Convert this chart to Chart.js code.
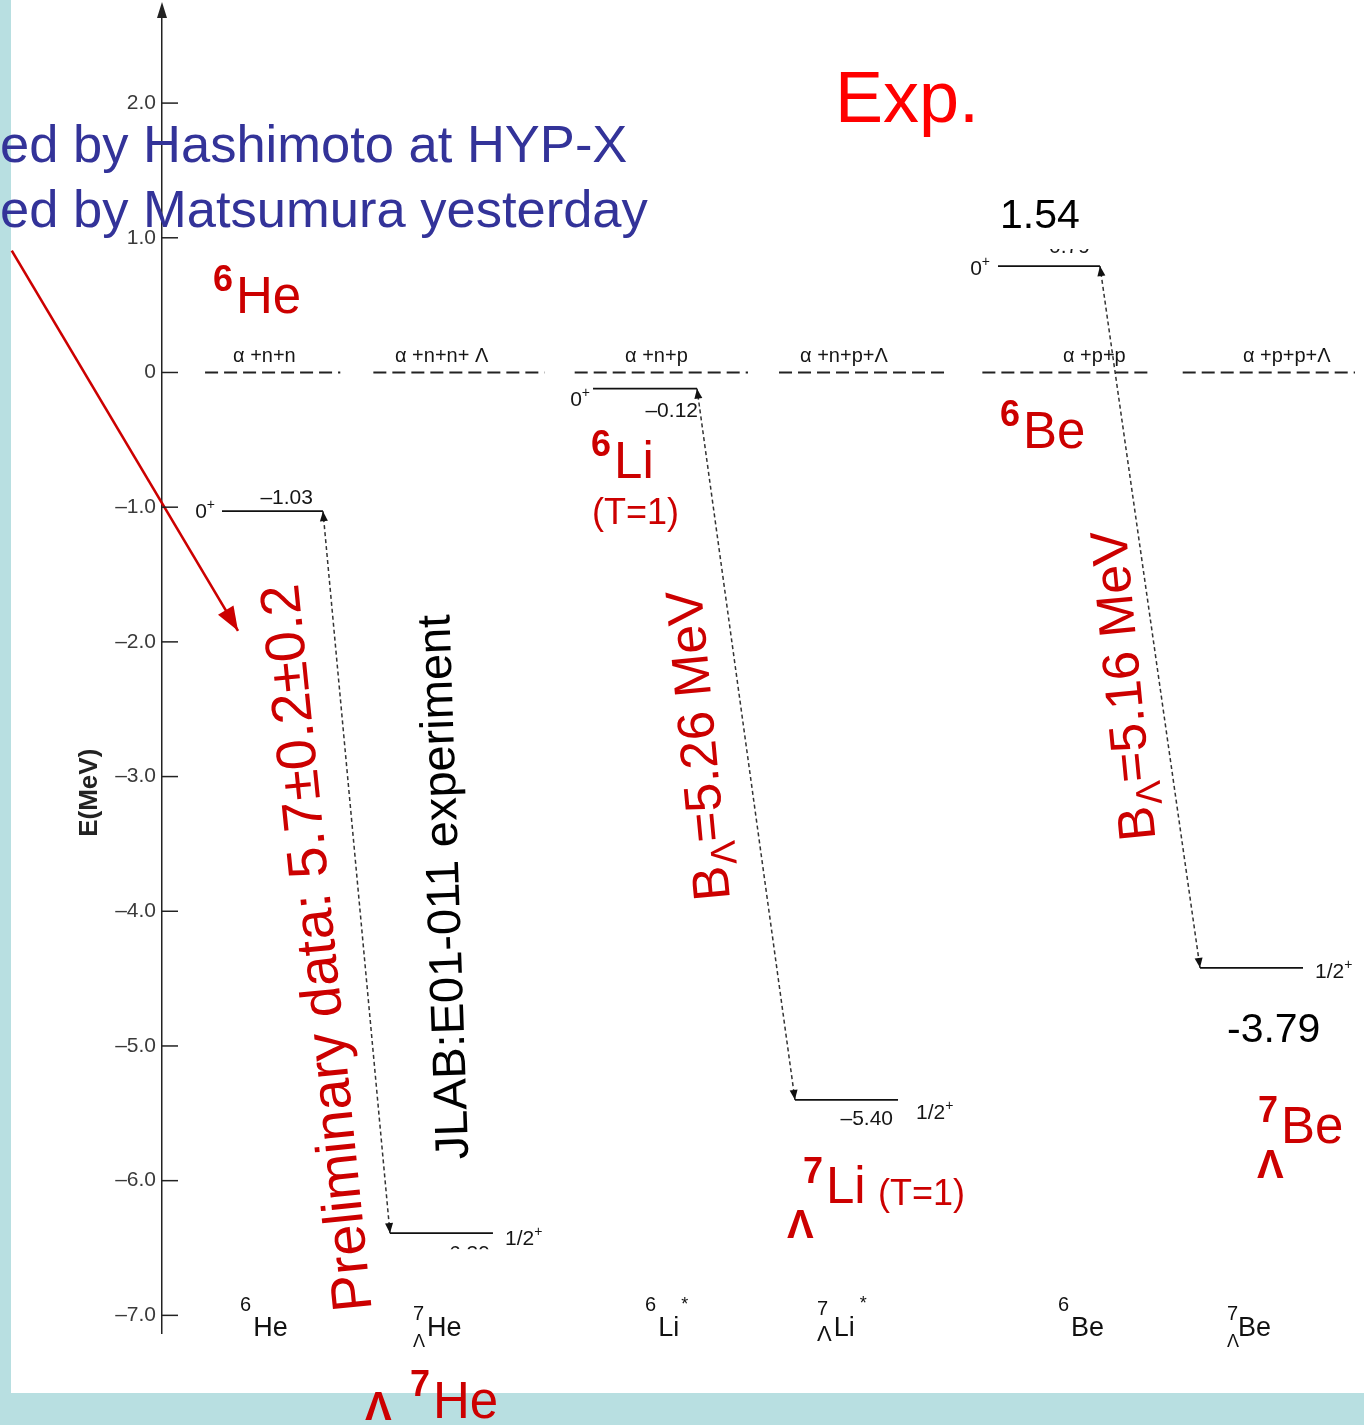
<!DOCTYPE html>
<html>
<head>
<meta charset="utf-8">
<title>Level scheme of A=6 nuclei and A=7 hypernuclei</title>
<script src="https://cdn.jsdelivr.net/npm/chart.js@4/dist/chart.umd.min.js"></script>
<style>
  html, body { margin: 0; padding: 0; background: #fff; }
  #wrap { position: relative; width: 1364px; height: 1425px; overflow: hidden; }
  .band { position: absolute; background: #b8dfe1; }
  #bandLeft { left: 0; top: 0; width: 11px; height: 1425px; }
  #bandBottom { left: 0; top: 1393px; width: 1364px; height: 32px; }
  canvas { position: absolute; left: 0; top: 0; }
</style>
</head>
<body>
<div id="wrap">
  <div class="band" id="bandLeft"></div>
  <div class="band" id="bandBottom"></div>
  <canvas id="chart" width="1364" height="1425"></canvas>
</div>
<script>
// ---------------- data ----------------
// Nuclei, one column each (core nucleus followed by its Λ hypernucleus)
const nuclei = ['6He', '7ΛHe', '6Li*', '7ΛLi*', '6Be', '7ΛBe'];
// Level energies in MeV, measured from the breakup threshold of each column
const levelEnergy = [-1.03, -6.39, -0.12, -5.40, 0.79, -4.42];
const levelSpin = ['0+', '1/2+', '0+', '1/2+', '0+', '1/2+'];
// Breakup thresholds
const thresholdLabels = ['α +n+n', 'α +n+n+ Λ', 'α +n+p', 'α +n+p+Λ', 'α +p+p', 'α +p+p+Λ'];
const thresholdEnergy = [0, 0, 0, 0, 0, 0];
// Core → hypernucleus transitions (indices into nuclei)
const transitions = [[0, 1], [2, 3], [4, 5]];
// Λ binding energies quoted on the arrows (MeV)
const bindingLabels = ['5.26', '5.16'];
// Measured values written next to the Be levels
const expValues = ['1.54', '-3.79'];
const preliminary = 'Preliminary data: 5.7±0.2±0.2';
const experiment = 'JLAB:E01-011 experiment';
const talkLines = ['ed by Hashimoto at HYP-X', 'ed by Matsumura yesterday'];
// Energy axis
const yTicks = [-7, -6, -5, -4, -3, -2, -1, 0, 1, 2];
const yRange = [-7.131, 2.706];

// ---------------- layout (x in column units, ~100 px each) ----------------
const xRange = [0, 12];
const levelSpan = [[0.599, 1.607], [2.276, 3.304], [4.303, 5.341], [6.319, 7.348], [8.346, 9.364], [10.363, 11.391]];
const thresholdSpan = [[0.43, 1.78], [2.11, 3.82], [4.12, 5.85], [6.16, 7.85], [8.19, 9.88], [10.19, 11.91]];
const thresholdLabelX = [0.709, 2.326, 4.623, 6.370, 8.995, 10.791];
const nucleusLabelX = [0.779, 2.506, 4.822, 6.539, 8.945, 10.632];

const FONT = "'Liberation Sans', Arial, Helvetica, sans-serif";
const f = (size, bold) => (bold ? 'bold ' : '') + size + 'px ' + FONT;
const RED = '#cc0000', BRIGHT_RED = '#ff0000', BLUE = '#333399', INK = '#151515';

const minus = v => (v < 0 ? '\u2013' : '') + Math.abs(v).toFixed(2);

// ---------------- datasets ----------------
const datasets = [];
thresholdLabels.forEach((name, i) => datasets.push({
  label: name, kind: 'threshold',
  data: [{ x: thresholdSpan[i][0], y: thresholdEnergy[i] }, { x: thresholdSpan[i][1], y: thresholdEnergy[i] }],
  showLine: true, borderColor: '#222', borderWidth: 1.8, borderDash: [13, 6], pointRadius: 0
}));
nuclei.forEach((name, i) => datasets.push({
  label: name, kind: 'level',
  data: [{ x: levelSpan[i][0], y: levelEnergy[i] }, { x: levelSpan[i][1], y: levelEnergy[i] }],
  showLine: true, borderColor: '#111', borderWidth: 1.8, pointRadius: 0
}));
transitions.forEach(([a, b]) => datasets.push({
  label: nuclei[a] + '→' + nuclei[b], kind: 'transition',
  data: [{ x: levelSpan[a][1], y: levelEnergy[a] }, { x: levelSpan[b][0], y: levelEnergy[b] }],
  showLine: true, borderColor: '#333', borderWidth: 1.5, borderDash: [4, 3], pointRadius: 0
}));
// red pointer from the talk note to the preliminary value
datasets.push({
  label: 'pointer', kind: 'pointer',
  data: [{ x: -1.50, y: 0.905 }, { x: 0.759, y: -1.918 }],
  showLine: true, borderColor: RED, borderWidth: 2.6, pointRadius: 0, clip: false
});

// ---------------- drawing helpers ----------------
function text(ctx, s, x, y, font, color, align) {
  ctx.font = font; ctx.fillStyle = color;
  ctx.textAlign = align || 'left'; ctx.textBaseline = 'alphabetic';
  ctx.fillText(s, x, y);
  return ctx.measureText(s).width;
}

function head(ctx, from, to, len, half, color) {
  const a = Math.atan2(to.y - from.y, to.x - from.x);
  ctx.save();
  ctx.translate(to.x, to.y); ctx.rotate(a);
  ctx.fillStyle = color;
  ctx.beginPath(); ctx.moveTo(0, 0); ctx.lineTo(-len, -half); ctx.lineTo(-len, half); ctx.closePath(); ctx.fill();
  ctx.restore();
}

function parseNucleus(n) {
  const m = n.match(/^(\d+)(Λ?)([A-Z][a-z]?)(\*?)$/);
  return { mass: m[1], lam: !!m[2], sym: m[3], star: !!m[4] };
}

// mass number as superscript, Λ as subscript, then the element symbol
function isotope(ctx, x, y, nuc, s) {
  ctx.textAlign = 'left'; ctx.textBaseline = 'alphabetic'; ctx.fillStyle = s.color;
  ctx.font = f(s.sup, s.supBold);
  const wSup = ctx.measureText(nuc.mass).width;
  ctx.fillText(nuc.mass, x, y - s.raise);
  let wSub = 0;
  if (nuc.lam && s.sub) {
    ctx.font = f(s.sub, false);
    wSub = ctx.measureText('Λ').width;
    ctx.fillText('Λ', x, y + s.drop);
  }
  const mx = x + Math.max(wSup, wSub) + s.gap;
  ctx.font = f(s.main, false);
  ctx.fillText(nuc.sym, mx, y);
  if (nuc.star) {
    const w = ctx.measureText(nuc.sym).width;
    ctx.font = f(s.starSize, false);
    ctx.fillText('*', mx + w + s.starGap, y - s.starRaise);
  }
}

function spin(ctx, label, x, y, align) {
  const base = label.replace('+', ''), size = 21;
  ctx.font = f(size); const w1 = ctx.measureText(base).width;
  ctx.font = f(14); const w2 = ctx.measureText('+').width;
  const x0 = align === 'right' ? x - w1 - w2 : x;
  text(ctx, base, x0, y, f(size), INK);
  text(ctx, '+', x0 + w1, y - 9, f(14), INK);
}

function rotated(ctx, cx, cy, deg, segs, cap) {
  ctx.save();
  ctx.translate(cx, cy); ctx.rotate(deg * Math.PI / 180);
  ctx.textAlign = 'left'; ctx.textBaseline = 'alphabetic';
  let total = 0;
  segs.forEach(s => { ctx.font = s.font; s.w = ctx.measureText(s.t).width; total += s.w; });
  let x = -total / 2;
  const b = 0.716 * cap / 2;
  segs.forEach(s => { ctx.font = s.font; ctx.fillStyle = s.color; ctx.fillText(s.t, x, b + (s.dy || 0)); x += s.w; });
  ctx.restore();
}

// label placement around each level (pixel offsets)
const spinPlace = [
  { side: 'left', gap: 7, dy: 7 }, { side: 'right', gap: 12, dy: 12 },
  { side: 'left', gap: 3, dy: 17 }, { side: 'right', gap: 18, dy: 19 },
  { side: 'left', gap: 8, dy: 9 }, { side: 'right', gap: 12, dy: 10 }
];
const valuePlace = [
  { dx: -10, dy: -7 }, { dx: -3, dy: 27, clip: [-100, 16] },
  { dx: 1, dy: 28 }, { dx: -5, dy: 25 },
  { dx: -10, dy: -13, clip: [-17, 100] }, null
];

const levelScheme = {
  id: 'levelScheme',
  afterDraw(chart) {
    const { ctx, chartArea: ca, scales: { x: xs, y: ys } } = chart;
    const X = u => xs.getPixelForValue(u), Y = v => ys.getPixelForValue(v);
    ctx.save();

    // energy axis: arrow tip and inward tick marks
    ctx.fillStyle = '#222'; ctx.strokeStyle = '#222'; ctx.lineWidth = 1.5;
    ctx.beginPath(); ctx.moveTo(ca.left, ca.top - 6); ctx.lineTo(ca.left - 5, ca.top + 10); ctx.lineTo(ca.left + 5, ca.top + 10); ctx.closePath(); ctx.fill();
    yTicks.forEach(v => { const p = Y(v); ctx.beginPath(); ctx.moveTo(ca.left, p); ctx.lineTo(ca.left + 16, p); ctx.stroke(); });
    ctx.save();
    ctx.translate(ca.left - 74, Y(-3.12)); ctx.rotate(-Math.PI / 2);
    text(ctx, 'E(MeV)', 0, 9, f(26, true), '#222', 'center');
    ctx.restore();

    // arrowheads on transitions and pointer
    chart.data.datasets.forEach((ds, i) => {
      const pts = chart.getDatasetMeta(i).data;
      if (ds.kind === 'transition') {
        head(ctx, pts[1], pts[0], 10, 4, '#111');
        head(ctx, pts[0], pts[1], 10, 4, '#111');
      } else if (ds.kind === 'pointer') {
        head(ctx, pts[0], pts[1], 24, 9, RED);
      }
    });

    // threshold names
    thresholdLabels.forEach((t, i) => text(ctx, t, X(thresholdLabelX[i]), Y(thresholdEnergy[i]) - 10, f(20), INK));

    // spins and energies of the levels
    nuclei.forEach((n, i) => {
      const y = Y(levelEnergy[i]), xl = X(levelSpan[i][0]), xr = X(levelSpan[i][1]);
      const sp = spinPlace[i];
      if (sp.side === 'left') spin(ctx, levelSpin[i], xl - sp.gap, y + sp.dy, 'right');
      else spin(ctx, levelSpin[i], xr + sp.gap, y + sp.dy, 'left');
      const vp = valuePlace[i];
      if (vp) {
        ctx.save();
        if (vp.clip) { ctx.beginPath(); ctx.rect(xl, y + vp.clip[0], xr - xl + 20, vp.clip[1] - vp.clip[0]); ctx.clip(); }
        text(ctx, minus(levelEnergy[i]), xr + vp.dx, y + vp.dy, f(21), INK, 'right');
        ctx.restore();
      }
    });

    // nucleus names under the columns
    const small = { sup: 20, sub: 18, drop: 11, main: 27, gap: 2, color: '#111', starSize: 18, starGap: 2, starRaise: 26 };
    nuclei.forEach((n, i) => {
      const nuc = parseNucleus(n);
      const s = Object.assign({}, small, { raise: nuc.lam ? 16 : 25 });
      if (n === '7ΛLi*') Object.assign(s, { raise: 21, sub: 22, drop: 5, starGap: 5, starRaise: 27 });
      if (n === '7ΛBe') s.gap = -1;
      isotope(ctx, X(nucleusLabelX[i]), Y(-7.153), nuc, s);
    });

    // red names of the nuclei
    const big = { sup: 36, supBold: true, main: 51, gap: 3, color: RED, raise: 22 };
    isotope(ctx, X(0.509), Y(0.442), parseNucleus('6He'), big);
    isotope(ctx, X(4.283), Y(-0.783), parseNucleus('6Li'), big);
    text(ctx, '(T=1)', X(4.293), Y(-1.125), f(36), RED);
    isotope(ctx, X(8.366), Y(-0.561), parseNucleus('6Be'), big);
    isotope(ctx, X(6.399), Y(-6.166), parseNucleus('7Li'), Object.assign({}, big, { raise: 20 }));
    text(ctx, '(T=1)', X(7.148), Y(-6.181), f(36), RED);
    text(ctx, 'Λ', X(6.239), Y(-6.425), f(40, true), RED);
    isotope(ctx, X(10.942), Y(-5.720), parseNucleus('7Be'), Object.assign({}, big, { raise: 21 }));
    text(ctx, 'Λ', X(10.932), Y(-5.980), f(40, true), RED);
    text(ctx, 'Λ', X(2.027), Y(-7.776), f(40, true), RED);
    isotope(ctx, X(2.476), Y(-7.762), parseNucleus('7He'), big);

    // headline and notes
    text(ctx, 'Exp.', X(6.719), Y(1.860), f(72), BRIGHT_RED);
    text(ctx, talkLines[0], X(-1.617), Y(1.563), f(52.5), BLUE);
    text(ctx, talkLines[1], X(-1.617), Y(1.080), f(52.5), BLUE);
    text(ctx, expValues[0], X(8.366), Y(1.073), f(41), '#000');
    text(ctx, expValues[1], X(10.632), Y(-4.970), f(41), '#000');

    // texts running along the transitions
    rotated(ctx, X(1.527), Y(-4.275), -95.8, [{ t: preliminary, font: f(56), color: RED }], 56);
    rotated(ctx, X(2.795), Y(-3.822), -92.0, [{ t: experiment, font: f(47), color: '#000' }], 47);
    const bl = (v) => [
      { t: 'B', font: f(52), color: RED },
      { t: 'Λ', font: f(36), color: RED, dy: 10 },
      { t: '=' + v + ' MeV', font: f(52), color: RED }
    ];
    rotated(ctx, X(5.341), Y(-2.772), -95.3, bl(bindingLabels[0]), 52);
    rotated(ctx, X(9.584), Y(-2.327), -95.5, bl(bindingLabels[1]), 52);

    ctx.restore();
  }
};

new Chart(document.getElementById('chart'), {
  type: 'scatter',
  data: { datasets },
  options: {
    responsive: false,
    animation: false,
    events: [],
    layout: { padding: { top: 8, bottom: 92, left: 0, right: 0 } },
    plugins: { legend: { display: false }, tooltip: { enabled: false } },
    scales: {
      x: { type: 'linear', min: xRange[0], max: xRange[1], display: false },
      y: {
        type: 'linear', min: yRange[0], max: yRange[1],
        afterFit: s => { s.width = 162; s.paddingTop = 0; s.paddingBottom = 0; },
        afterBuildTicks: s => { s.ticks = yTicks.map(v => ({ value: v })); },
        grid: { display: false, drawTicks: false, tickLength: 0 },
        border: { display: true, color: '#222', width: 1.5 },
        ticks: {
          padding: 6, color: '#3a3a3a', font: { family: FONT, size: 21 },
          callback: v => v === 0 ? '0' : (v < 0 ? '\u2013' : '') + Math.abs(v).toFixed(1)
        }
      }
    }
  },
  plugins: [levelScheme]
});
</script>
</body>
</html>
